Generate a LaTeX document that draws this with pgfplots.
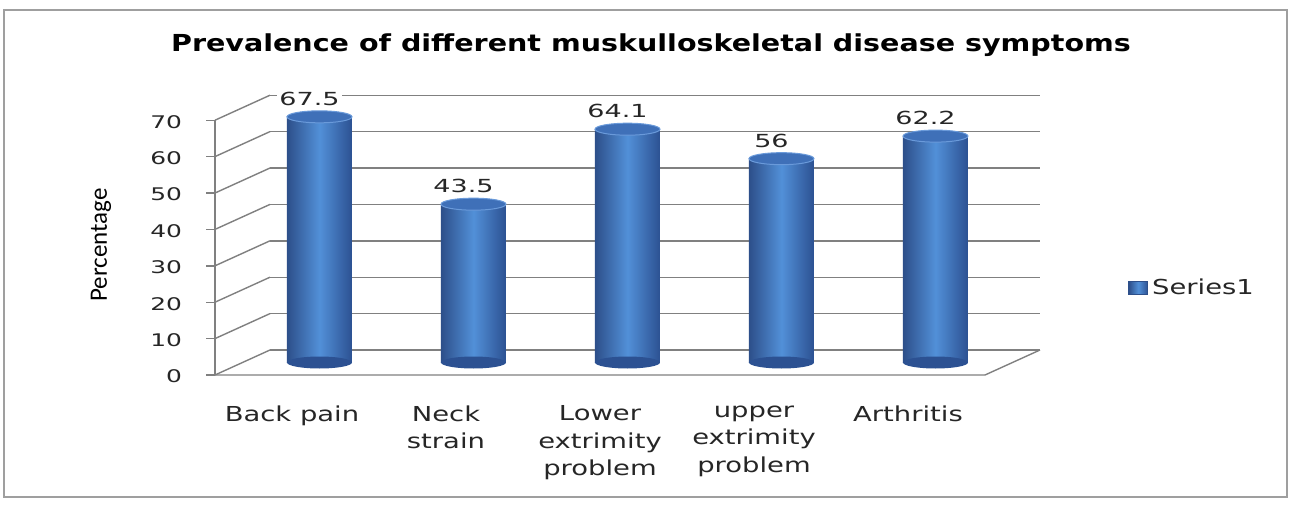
\documentclass[border=0pt]{standalone}
\usepackage{pgfplots}
\pgfplotsset{compat=1.18}
\usepackage{fontspec}
\newfontfamily\titlefont{DejaVu Sans}[FakeStretch=1.22]
\newfontfamily\tickfont{DejaVu Sans}[FakeStretch=1.43]
\newfontfamily\catfont{DejaVu Sans}[FakeStretch=1.33]
\newfontfamily\datafont{DejaVu Sans}[FakeStretch=1.5]
\newfontfamily\ytitlefont{Carlito}
\definecolor{barL}{HTML}{2D4F8A}
\definecolor{barM}{HTML}{5290D8}
\definecolor{barR}{HTML}{2C5192}
\definecolor{capc}{HTML}{3F70B8}
\definecolor{caprim}{HTML}{6A9ADA}
\definecolor{gridc}{HTML}{808080}
\pgfdeclarehorizontalshading{cyl}{100bp}{color(0bp)=(barL); color(25bp)=(barL); color(50bp)=(barM); color(75bp)=(barR); color(100bp)=(barR)}
\pgfdeclareplotmark{captop}{%
  \pgfpathellipse{\pgfpointorigin}{\pgfqpoint{16.25pt}{0pt}}{\pgfqpoint{0pt}{3pt}}%
  \pgfusepathqfillstroke}
\pgfdeclareplotmark{capbot}{%
  \pgfpathellipse{\pgfpointorigin}{\pgfqpoint{16.25pt}{0pt}}{\pgfqpoint{0pt}{3pt}}%
  \pgfusepathqfill}
\pgfplotsset{
  cylbar/.style={ybar, bar shift=0pt, bar width=32.5pt, draw=none, fill=barM, shade, shading=cyl,
    nodes near coords, nodes near coords align={vertical},
    every node near coord/.append style={font=\datafont\fontsize{9}{10}\selectfont, anchor=center, yshift=9pt, xshift=-5pt, fill=white, inner sep=1pt, text=black!85, shade=false}},
}
\begin{document}
\begin{tikzpicture}
\useasboundingbox (-121.25pt,-70.75pt) rectangle (524.75pt,181.25pt);
\fill[white] (-121.25pt,-70.75pt) rectangle (524.75pt,181.25pt);
\draw[gray!75, line width=0.9pt] (-119.25pt,-67.25pt) rectangle (522.25pt,176.25pt);
\node[font=\titlefont\bfseries\fontsize{11.7}{14}\selectfont] at (204.25pt,158.75pt) {Prevalence of different muskulloskeletal disease symptoms};
\node[rotate=90, font=\ytitlefont\fontsize{12.5}{15}\selectfont] at (-70.75pt,58.75pt) {Percentage};
\begin{axis}[
  at={(0pt,0pt)}, anchor=south west,
  scale only axis, width=385pt, height=127.4pt,
  xmin=-0.5, xmax=4.5, ymin=0, ymax=70,
  clip=false,
  axis line style={draw=none},
  major tick length=0pt,
  ytick={0,10,...,70},
  xtick={0,1,2,3,4},
  xticklabels={Back pain, Neck\\strain, Lower\\extrimity\\problem, upper\\extrimity\\problem, Arthritis},
  xticklabel style={align=center, anchor=north, font=\catfont\fontsize{10.3}{13.75}\selectfont, xshift=-13.75pt, yshift=-18pt, text=black!85},
  yticklabel style={font=\tickfont\fontsize{8.7}{10}\selectfont, xshift=-26.75pt, yshift=-7pt, text=black!85},
  /pgf/number format/assume math mode=true,
  legend style={at={(1.150,0.292)}, anchor=west, draw=none, fill=none, inner sep=0pt,
    font=\catfont\fontsize{10.3}{12}\selectfont, text=black!85},
  legend cell align=left,
]
% back wall gridlines and side diagonals
\pgfplotsinvokeforeach{0,10,20,30,40,50,60,70}{
  \draw[gridc, line width=0.7pt] ([shift={(13.75pt,6.25pt)}]axis cs:-0.5,#1) -- ([shift={(13.75pt,6.25pt)}]axis cs:4.5,#1);
  \draw[gridc, line width=0.7pt] ([shift={(-13.75pt,-6.25pt)}]axis cs:-0.5,#1) -- ([shift={(13.75pt,6.25pt)}]axis cs:-0.5,#1);
  \draw[gridc, line width=0.7pt] ([shift={(-13.75pt,-6.25pt)}]axis cs:-0.5,#1) -- ([shift={(-18.25pt,-6.25pt)}]axis cs:-0.5,#1);
}
% front y axis line and floor
\draw[gridc, line width=0.7pt] ([shift={(-13.75pt,-6.25pt)}]axis cs:-0.5,0) -- ([shift={(-13.75pt,-6.25pt)}]axis cs:-0.5,70);
\draw[gridc, line width=0.7pt] ([shift={(-13.75pt,-6.25pt)}]axis cs:-0.5,0) -- ([shift={(-13.75pt,-6.25pt)}]axis cs:4.5,0) -- ([shift={(13.75pt,6.25pt)}]axis cs:4.5,0);
% bottom caps
\addplot[only marks, mark=capbot, mark options={fill=barR}, forget plot] coordinates {(0,0) (1,0) (2,0) (3,0) (4,0)};
% bars, one plot each so that each cylinder gets its own shading
\addplot[cylbar, legend image code/.code={\fill[capc, draw=barL] (0pt,-3.25pt) rectangle (9.5pt,3.25pt);}] coordinates {(0,67.5)};
\addlegendentry{Series1}
\addplot[cylbar, forget plot] coordinates {(1,43.5)};
\addplot[cylbar, forget plot] coordinates {(2,64.1)};
\addplot[cylbar, forget plot] coordinates {(3,56)};
\addplot[cylbar, forget plot] coordinates {(4,62.2)};
% top caps
\addplot[only marks, mark=captop, mark options={fill=capc, draw=caprim, line width=0.5pt}, forget plot]
  coordinates {(0,67.5) (1,43.5) (2,64.1) (3,56) (4,62.2)};
\end{axis}
\end{tikzpicture}
\end{document}
